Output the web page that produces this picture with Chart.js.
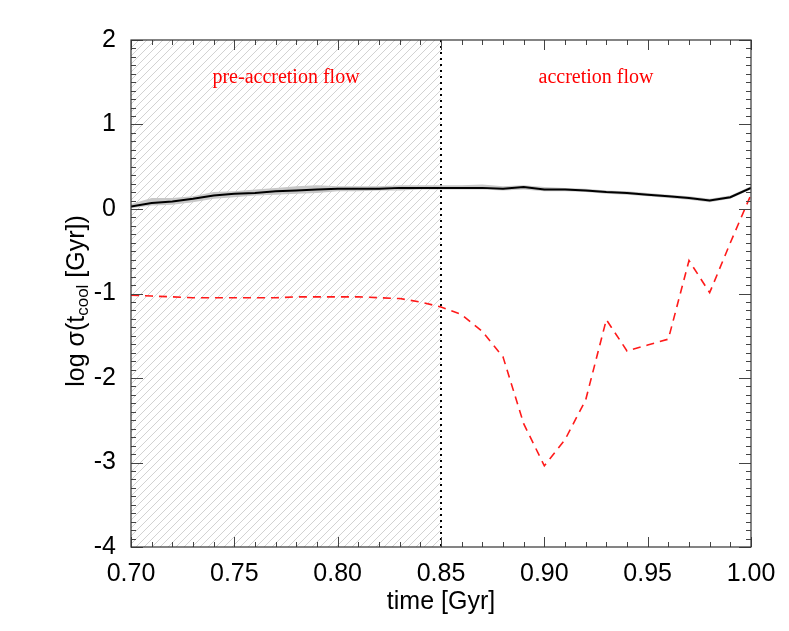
<!DOCTYPE html>
<html>
<head>
<meta charset="utf-8">
<script src="https://cdn.jsdelivr.net/npm/chart.js@4.4.1/dist/chart.umd.min.js"></script>
<style>
  html, body { margin: 0; padding: 0; background: #fff; }
  #wrap { width: 789px; height: 631px; }
</style>
</head>
<body>
<div id="wrap"><canvas id="myChart" width="789" height="631"></canvas></div>
<script>
// data
const times = [0.70, 0.71, 0.72, 0.73, 0.74, 0.75, 0.76, 0.77, 0.78, 0.79, 0.80,
    0.81, 0.82, 0.83, 0.84, 0.85, 0.86, 0.87, 0.88, 0.89, 0.90,
    0.91, 0.92, 0.93, 0.94, 0.95, 0.96, 0.97, 0.98, 0.99, 1.00];

const sigmaMean = [0.03, 0.07, 0.09, 0.12, 0.16, 0.18, 0.19, 0.21, 0.22, 0.23, 0.24,
    0.24, 0.24, 0.25, 0.25, 0.25, 0.25, 0.25, 0.24, 0.26, 0.23,
    0.23, 0.22, 0.20, 0.19, 0.17, 0.15, 0.13, 0.10, 0.14, 0.25];

// grey spread around the mean
const sigmaHi = [0.06, 0.13, 0.13, 0.15, 0.20, 0.21, 0.23, 0.25, 0.27, 0.28, 0.27,
    0.27, 0.27, 0.28, 0.28, 0.28, 0.28, 0.29, 0.27, 0.28, 0.26,
    0.25, 0.24, 0.22, 0.21, 0.19, 0.17, 0.15, 0.12, 0.16, 0.27];

const sigmaLo = [0.01, 0.04, 0.05, 0.08, 0.12, 0.14, 0.16, 0.17, 0.18, 0.19, 0.21,
    0.21, 0.22, 0.22, 0.23, 0.23, 0.23, 0.23, 0.22, 0.23, 0.21,
    0.21, 0.20, 0.18, 0.17, 0.15, 0.13, 0.11, 0.08, 0.12, 0.23];

const sigmaTracer = [-1.02, -1.03, -1.04, -1.05, -1.05, -1.05, -1.05, -1.05, -1.04, -1.04, -1.04,
    -1.04, -1.05, -1.06, -1.10, -1.16, -1.25, -1.45, -1.75, -2.54, -3.04,
    -2.73, -2.26, -1.31, -1.68, -1.61, -1.54, -0.61, -0.99, -0.40, 0.17];

const xTicks = [0.70, 0.75, 0.80, 0.85, 0.90, 0.95, 1.00];
const yTicks = [-4, -3, -2, -1, 0, 1, 2];

const accretionStart = 0.85;
const labels = [
    { text: 'pre-accretion flow', x: 0.775, y: 1.55 },
    { text: 'accretion flow', x: 0.925, y: 1.55 }
];

const pts = (ys) => times.map((t, i) => ({ x: t, y: ys[i] }));

const FONT = '"Liberation Sans", Arial, sans-serif';

// hatched pre-accretion region + dotted divider
const hatchPlugin = {
    id: 'hatch',
    beforeDatasetsDraw(chart) {
        const c = chart.ctx, a = chart.chartArea;
        const xs = chart.scales.x;
        const x0 = xs.getPixelForValue(times[0]);
        const x1 = xs.getPixelForValue(accretionStart);
        c.save();
        c.beginPath();
        c.rect(x0, a.top, x1 - x0, a.bottom - a.top);
        c.clip();
        c.strokeStyle = '#d2d2d2';
        c.lineWidth = 1;
        const h = a.bottom - a.top;
        for (let x = x0 - h; x < x1 + 8; x += 8) {
            c.beginPath();
            c.moveTo(x, a.bottom);
            c.lineTo(x + h, a.top);
            c.stroke();
        }
        c.restore();

        c.save();
        c.strokeStyle = '#000';
        c.lineWidth = 2;
        c.setLineDash([2, 4]);
        c.beginPath();
        c.moveTo(x1, a.top);
        c.lineTo(x1, a.bottom);
        c.stroke();
        c.restore();
    }
};

// box, inward ticks, axis titles, text labels
const framePlugin = {
    id: 'frame',
    afterDraw(chart) {
        const c = chart.ctx, a = chart.chartArea;
        const xs = chart.scales.x, ys = chart.scales.y;
        c.save();
        c.strokeStyle = '#444';
        c.lineWidth = 1;
        // minor + major ticks on x (bottom & top)
        for (let k = 70; k <= 100; k++) {
            const px = Math.round(xs.getPixelForValue(k / 100)) + 0.5;
            const len = (k % 5 === 0) ? 10 : 5;
            c.beginPath();
            c.moveTo(px, a.bottom); c.lineTo(px, a.bottom - len);
            c.moveTo(px, a.top); c.lineTo(px, a.top + len);
            c.stroke();
        }
        // minor + major ticks on y (left & right)
        for (let k = -40; k <= 20; k++) {
            const py = Math.round(ys.getPixelForValue(k / 10)) + 0.5;
            const len = (k % 10 === 0) ? 12 : 5;
            c.beginPath();
            c.moveTo(a.left, py); c.lineTo(a.left + len, py);
            c.moveTo(a.right, py); c.lineTo(a.right - len, py);
            c.stroke();
        }
        c.strokeStyle = '#333';
        c.lineWidth = 1.2;
        c.strokeRect(a.left, a.top, a.right - a.left, a.bottom - a.top);
        c.restore();

        // red labels
        c.save();
        c.fillStyle = '#ff0000';
        c.font = '20px "Liberation Serif", "Times New Roman", serif';
        c.textAlign = 'center';
        c.textBaseline = 'middle';
        labels.forEach(l => {
            c.fillText(l.text, xs.getPixelForValue(l.x), ys.getPixelForValue(l.y));
        });
        c.restore();

        // x title
        c.save();
        c.fillStyle = '#000';
        c.font = '25px ' + FONT;
        c.textAlign = 'center';
        c.textBaseline = 'middle';
        c.fillText('time [Gyr]', (a.left + a.right) / 2, 602);
        c.restore();

        // y title with subscript
        c.save();
        c.translate(77, 301);
        c.rotate(-Math.PI / 2);
        c.fillStyle = '#000';
        c.textBaseline = 'middle';
        const big = '25px ' + FONT, small = '17px ' + FONT;
        const p1 = 'log \u03c3(t', p2 = 'cool', p3 = ' [Gyr])';
        c.font = big; const w1 = c.measureText(p1).width, w3 = c.measureText(p3).width;
        c.font = small; const w2 = c.measureText(p2).width;
        let x = -(w1 + w2 + w3) / 2;
        c.font = big; c.fillText(p1, x, 0); x += w1;
        c.font = small; c.fillText(p2, x, 6); x += w2;
        c.font = big; c.fillText(p3, x, 0);
        c.restore();
    }
};

const ctx = document.getElementById('myChart');

new Chart(ctx, {
    type: 'line',
    data: {
        datasets: [
            {
                label: 'hi',
                data: pts(sigmaHi),
                borderWidth: 0,
                borderColor: 'transparent',
                pointRadius: 0,
                backgroundColor: 'rgb(200,200,200)',
                fill: '+1',
                order: 5
            },
            {
                label: 'lo',
                data: pts(sigmaLo),
                borderWidth: 0,
                borderColor: 'transparent',
                pointRadius: 0,
                fill: false,
                order: 4
            },
            {
                label: 'mean',
                data: pts(sigmaMean),
                borderColor: '#000',
                borderWidth: 2,
                pointRadius: 0,
                fill: false,
                order: 1
            },
            {
                label: 'tracer',
                data: pts(sigmaTracer),
                borderColor: '#ff1a1a',
                borderWidth: 1.6,
                borderDash: [8, 6],
                pointRadius: 0,
                fill: false,
                order: 0
            }
        ]
    },
    options: {
        responsive: false,
        animation: false,
        layout: { padding: { left: 0, right: 38, top: 40, bottom: 0 } },
        plugins: { legend: { display: false }, tooltip: { enabled: false } },
        scales: {
            x: {
                type: 'linear',
                min: 0.70,
                max: 1.00,
                afterFit: (s) => { s.height = 84; },
                afterBuildTicks: (s) => { s.ticks = xTicks.map(v => ({ value: v })); },
                grid: { display: false },
                border: { display: false },
                ticks: {
                    padding: 4,
                    color: '#000',
                    font: { family: FONT, size: 25 },
                    maxRotation: 0,
                    callback: (v) => v.toFixed(2)
                }
            },
            y: {
                min: -4,
                max: 2,
                afterFit: (s) => { s.width = 131; },
                afterBuildTicks: (s) => { s.ticks = yTicks.map(v => ({ value: v })); },
                grid: { display: false },
                border: { display: false },
                ticks: {
                    padding: 7,
                    color: '#000',
                    font: { family: FONT, size: 25 },
                    callback: (v) => String(v)
                }
            }
        }
    },
    plugins: [hatchPlugin, framePlugin]
});
</script>
</body>
</html>
